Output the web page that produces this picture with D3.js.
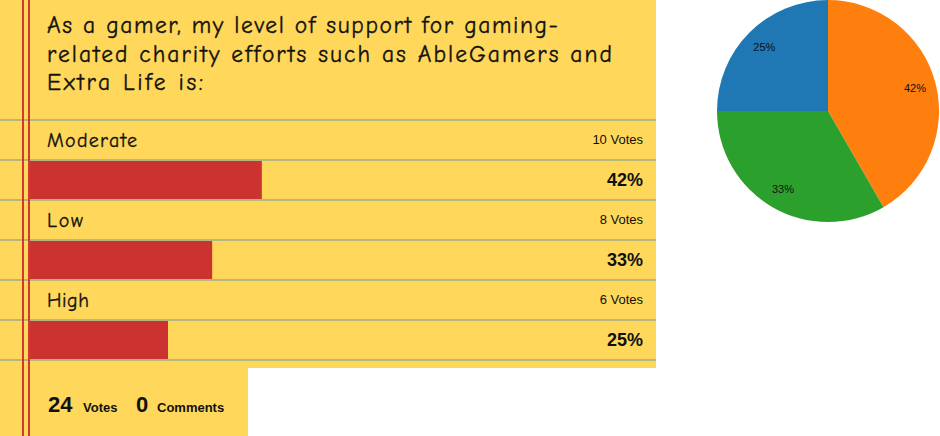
<!DOCTYPE html>
<html>
<head>
<meta charset="utf-8">
<script src="https://cdn.jsdelivr.net/npm/d3@7"></script>
<style>
  html, body { margin: 0; padding: 0; background: #ffffff; }
  svg { display: block; }
</style>
</head>
<body>
<svg id="chart" width="940" height="436"></svg>
<script>
// ---- data ----
const titleLines = [
  "As a gamer, my level of support for gaming-",
  "related charity efforts such as AbleGamers and",
  "Extra Life is:"
];
const categories = ["Moderate", "Low", "High"];
const votes = [10, 8, 6];
const percents = [42, 33, 25];
const totalVotes = 24;
const totalComments = 0;
const pieColors = ["#ff7f0e", "#2ca02c", "#1f77b4"];

// ---- styling constants ----
const W = 940, H = 436;
const yellow = "#ffd75a";
const ruleColor = "#b6b77a";
const barColor = "#cc3330";
const marginRed = "#d23a30";
const comicFont = "'Comic Sans MS', 'Comic Neue', 'Open Sans', sans-serif";
const arialFont = "Arial, 'Liberation Sans', sans-serif";

const svg = d3.select("#chart");

const panelW = 656, panelH = 368;
const footerW = 248;

// panel backgrounds
svg.append("rect").attr("x", 0).attr("y", 0).attr("width", panelW).attr("height", panelH).attr("fill", yellow);
svg.append("rect").attr("x", 0).attr("y", panelH).attr("width", footerW).attr("height", H - panelH).attr("fill", yellow);

// row scale
const rowScale = d3.scaleBand().domain(categories).range([120, 360]).paddingInner(0).paddingOuter(0);
const half = rowScale.bandwidth() / 2;
const x = d3.scaleLinear().domain([0, 100]).range([30, 30 + 552]);

// horizontal rules
const ruleYs = [];
categories.forEach(c => { ruleYs.push(rowScale(c)); ruleYs.push(rowScale(c) + half); });
ruleYs.push(rowScale.range()[1]);
svg.append("g").selectAll("line").data(ruleYs).join("line")
  .attr("x1", 0).attr("x2", panelW)
  .attr("y1", d => d).attr("y2", d => d)
  .attr("stroke", ruleColor).attr("stroke-width", 2);

// bars
svg.append("g").selectAll("rect").data(categories).join("rect")
  .attr("x", x(0))
  .attr("y", d => rowScale(d) + half + 1)
  .attr("width", (d, i) => x(percents[i]) - x(0))
  .attr("height", half - 2)
  .attr("fill", barColor);

// red margin lines
[23, 29].forEach(xx => {
  svg.append("line").attr("x1", xx).attr("x2", xx).attr("y1", 0).attr("y2", H)
    .attr("stroke", marginRed).attr("stroke-width", 2);
});

// widen text with letter spacing so it spans the reference width
function spreadTo(sel, target) {
  const node = sel.node();
  const w = node.getComputedTextLength();
  const n = node.textContent.length;
  if (w > 0 && n > 1 && target > w) sel.attr("letter-spacing", ((target - w) / (n - 1)).toFixed(3));
}

// title
const titleTargets = [511, 565, 156];
const title = svg.append("g")
  .attr("font-family", comicFont).attr("font-size", 23.5).attr("fill", "#111")
  .attr("stroke", "#111").attr("stroke-width", 0.35);
titleLines.forEach((t, i) => {
  const tx = title.append("text").attr("x", 47).attr("y", 33 + i * 28.7).text(t);
  spreadTo(tx, titleTargets[i]);
});

// category labels
const labelTargets = [90, 36, 42];
svg.append("g").selectAll("text").data(categories).join("text")
  .attr("x", 47).attr("y", d => rowScale(d) + 27)
  .attr("font-family", comicFont).attr("font-size", 20).attr("fill", "#111")
  .attr("stroke", "#111").attr("stroke-width", 0.3)
  .text(d => d)
  .each(function (d, i) { spreadTo(d3.select(this), labelTargets[i]); });

// votes text
svg.append("g").selectAll("text").data(categories).join("text")
  .attr("x", 643).attr("y", d => rowScale(d) + 24)
  .attr("text-anchor", "end")
  .attr("font-family", arialFont).attr("font-size", 13).attr("fill", "#111")
  .text((d, i) => votes[i] + " Votes");

// percent text
svg.append("g").selectAll("text").data(categories).join("text")
  .attr("x", 643).attr("y", d => rowScale(d) + half + 26)
  .attr("text-anchor", "end")
  .attr("font-family", arialFont).attr("font-size", 18).attr("font-weight", "bold").attr("fill", "#111")
  .text((d, i) => percents[i] + "%");

// footer
const foot = svg.append("text").attr("y", 412).attr("font-family", arialFont).attr("fill", "#111");
foot.append("tspan").attr("x", 48).attr("font-size", 22).attr("font-weight", "bold").text(totalVotes);
foot.append("tspan").attr("x", 83).attr("font-size", 13).attr("font-weight", "bold").text("Votes");
foot.append("tspan").attr("x", 136).attr("font-size", 22).attr("font-weight", "bold").text(totalComments);
foot.append("tspan").attr("x", 157).attr("font-size", 13).attr("font-weight", "bold").text("Comments");

// pie
const cx = 828, cy = 111, r = 111;
const pie = d3.pie().sort(null).value(d => d);
const arcs = pie(votes);
const arc = d3.arc().innerRadius(0).outerRadius(r);
const labelArc = d3.arc().innerRadius(90).outerRadius(90);
const pg = svg.append("g").attr("transform", `translate(${cx},${cy})`);
pg.selectAll("path").data(arcs).join("path")
  .attr("d", arc)
  .attr("fill", (d, i) => pieColors[i]);
pg.selectAll("text").data(arcs).join("text")
  .attr("transform", d => `translate(${labelArc.centroid(d)})`)
  .attr("text-anchor", "middle").attr("dy", "0.35em")
  .attr("font-family", arialFont).attr("font-size", 11).attr("fill", "#111")
  .text((d, i) => percents[i] + "%");
</script>
</body>
</html>
